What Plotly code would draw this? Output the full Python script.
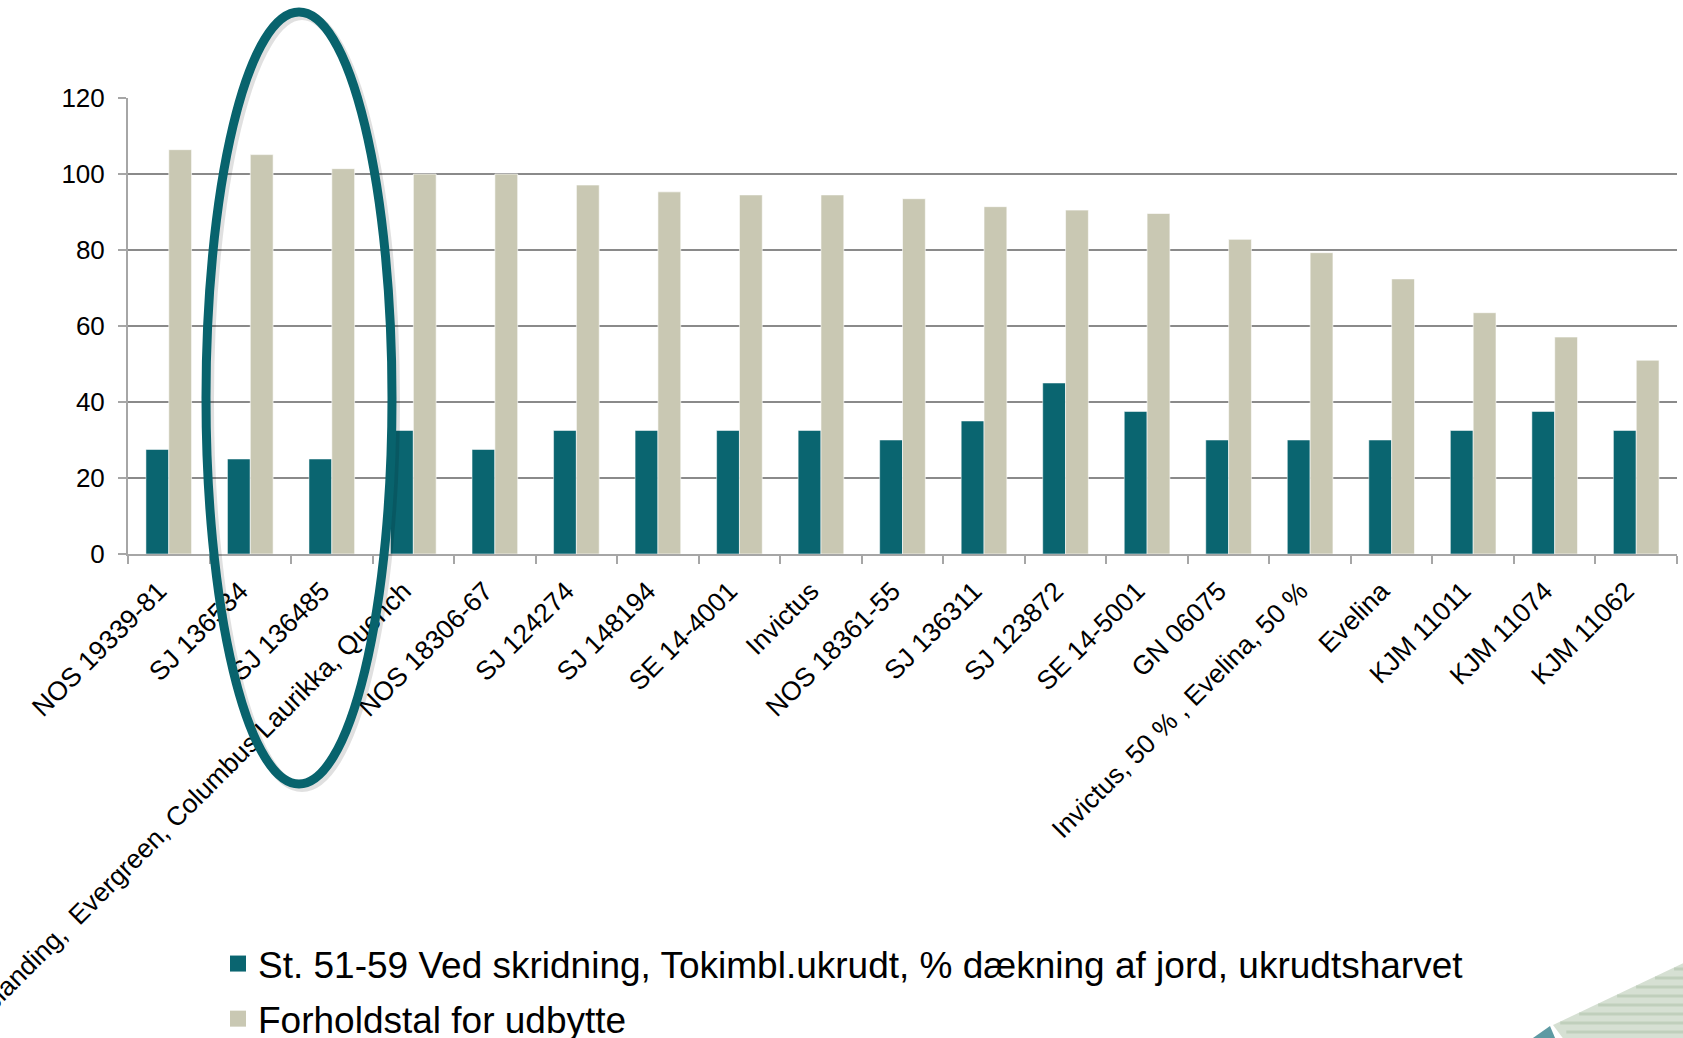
import plotly.graph_objects as go

categories = [
    "NOS 19339-81", "SJ 136534", "SJ 136485",
    "Sortsblanding,  Evergreen, Columbus Laurikka, Quench",
    "NOS 18306-67", "SJ 124274", "SJ 148194", "SE 14-4001", "Invictus",
    "NOS 18361-55", "SJ 136311", "SJ 123872", "SE 14-5001", "GN 06075",
    "Invictus, 50 % , Evelina, 50 %", "Evelina", "KJM 11011", "KJM 11074",
    "KJM 11062",
]
ukrudt = [27.5, 25, 25, 32.5, 27.5, 32.5, 32.5, 32.5, 32.5, 30, 35, 45, 37.5,
          30, 30, 30, 32.5, 37.5, 32.5]
udbytte = [106.4, 105.1, 101.4, 100, 100, 97.1, 95.3, 94.5, 94.5, 93.5, 91.4,
           90.5, 89.6, 82.8, 79.3, 72.4, 63.5, 57.1, 51.0]
series_names = [
    "St. 51-59 Ved skridning, Tokimbl.ukrudt, % dækning af jord, ukrudtsharvet",
    "Forholdstal for udbytte",
]
y_ticks = [0, 20, 40, 60, 80, 100, 120]

W, H = 1683, 1038
L, R, T, B = 128, 6, 98, 484
pw, ph = W - L - R, H - T - B


def px(x):
    return (x - L) / pw


def py(y):
    return (H - B - y) / ph


TEAL = "#0A6570"
BEIGE = "#C9C8B3"
FONT = "Liberation Sans, Arial, sans-serif"

fig = go.Figure()
fig.add_trace(go.Bar(x=categories, y=ukrudt, name=series_names[0], showlegend=False,
                     marker=dict(color=TEAL, line=dict(color="rgba(255,255,255,0.5)", width=1))))
fig.add_trace(go.Bar(x=categories, y=udbytte, name=series_names[1], showlegend=False,
                     marker=dict(color=BEIGE, line=dict(color="rgba(255,255,255,0.6)", width=1))))
# legend entries (square swatches)
for nm, col, grp in [(series_names[0], TEAL, "a"), (series_names[1], BEIGE, "b")]:
    fig.add_trace(go.Scatter(x=[None], y=[None], mode="markers", name=nm,
                             legendgroup=grp,
                             marker=dict(symbol="square", size=18, color=col)))

shapes = []
# decorative triangle bottom-right
shapes.append(dict(type="path", xref="paper", yref="paper",
                   path=f"M{px(1553)},{py(1025)} L{px(1690)},{py(960)} L{px(1690)},{py(1045)} L{px(1568)},{py(1045)} Z",
                   fillcolor="#D6E0D3", line=dict(width=0), layer="above"))
for yy in range(969, 1040, 9):
    xs = 1553 + (1025 - yy) * (137 / 65) + 3
    xs = max(xs, 1560 + (yy - 1025) * 0.9)
    shapes.append(dict(type="line", xref="paper", yref="paper",
                       x0=px(xs), x1=px(1690), y0=py(yy), y1=py(yy),
                       line=dict(color="#C0CFBC", width=3), layer="above"))
shapes.append(dict(type="path", xref="paper", yref="paper",
                   path=f"M{px(1523)},{py(1045)} L{px(1550)},{py(1026)} L{px(1558)},{py(1045)} Z",
                   fillcolor="#5E9AA3", line=dict(width=0), layer="above"))
# shadow + oval highlight
shapes.append(dict(type="circle", xref="paper", yref="paper",
                   x0=px(209), x1=px(395), y0=py(787), y1=py(15),
                   line=dict(color="rgba(0,0,0,0.12)", width=10), layer="above"))
shapes.append(dict(type="circle", xref="paper", yref="paper",
                   x0=px(206), x1=px(392), y0=py(784), y1=py(12),
                   line=dict(color="#08636D", width=9), layer="above"))

fig.update_layout(
    width=W, height=H,
    margin=dict(l=L, r=R, t=T, b=B, autoexpand=False),
    paper_bgcolor="white", plot_bgcolor="white",
    barmode="group", bargap=0.44, bargroupgap=0,
    font=dict(family=FONT, color="black"),
    showlegend=True,
    legend=dict(x=px(218), y=py(933), xanchor="left", yanchor="top",
                font=dict(size=37, family=FONT, color="black"),
                tracegroupgap=4, bgcolor="rgba(0,0,0,0)",
                itemwidth=30, itemsizing="trace"),
    shapes=shapes,
)
fig.update_xaxes(
    type="category", tickangle=-45, automargin=False,
    tickfont=dict(size=26.5, family=FONT, color="black"),
    showline=True, linecolor="#A6A6A6", linewidth=2,
    ticks="outside", ticklen=8, tickwidth=2, tickcolor="#A6A6A6",
    tickson="boundaries", showgrid=False,
    ticklabelshift=-10, ticklabelstandoff=9,
)
fig.update_yaxes(
    range=[0, 120], tickvals=y_ticks, automargin=False,
    tickfont=dict(size=26, family=FONT, color="black"),
    showline=True, linecolor="#A6A6A6", linewidth=2,
    ticks="outside", ticklen=8, tickwidth=2, tickcolor="#A6A6A6",
    ticklabelstandoff=8,
    showgrid=True, gridcolor="#8A8A8A", gridwidth=2,
    zeroline=False,
)

fig.write_html("out.html")
